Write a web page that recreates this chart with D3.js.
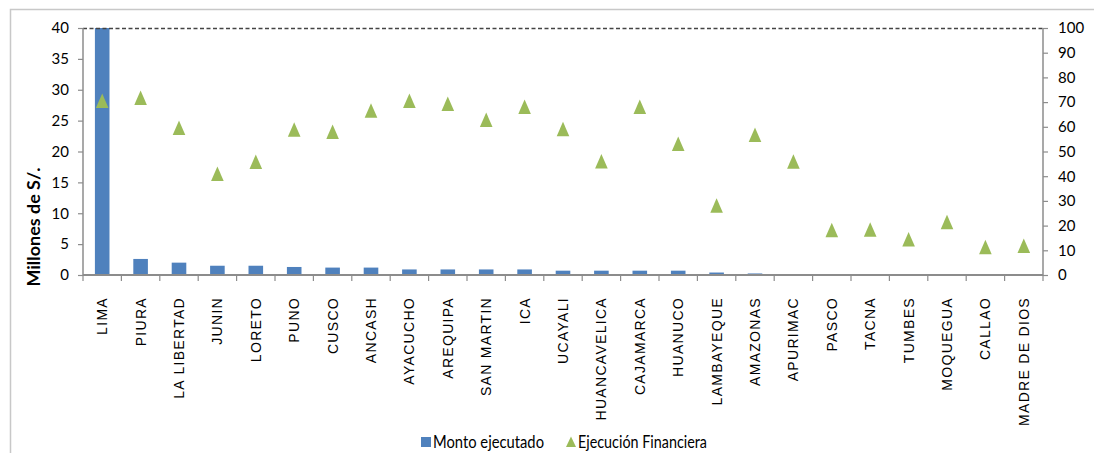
<!DOCTYPE html>
<html><head><meta charset="utf-8">
<script src="https://cdn.jsdelivr.net/npm/d3@7"></script>
<style>
html,body{margin:0;padding:0;background:#fff;}
svg{display:block;}
</style></head>
<body>
<svg id="chart" width="1094" height="453"></svg>
<script>
const categories = ["LIMA","PIURA","LA LIBERTAD","JUNIN","LORETO","PUNO","CUSCO","ANCASH","AYACUCHO","AREQUIPA","SAN MARTIN","ICA","UCAYALI","HUANCAVELICA","CAJAMARCA","HUANUCO","LAMBAYEQUE","AMAZONAS","APURIMAC","PASCO","TACNA","TUMBES","MOQUEGUA","CALLAO","MADRE DE DIOS"];
const montoEjecutado = [40,2.6,2.0,1.5,1.5,1.3,1.2,1.2,0.9,0.9,0.9,0.9,0.7,0.7,0.7,0.7,0.4,0.25,0.05,0,0,0,0,0,0];
const ejecucionFinanciera = [70.4,71.7,59.5,40.9,45.7,58.8,57.9,66.5,70.4,69.2,62.8,68,59,46,68,53,28,56.7,45.8,18.1,18.3,14.4,21.4,11.2,11.7];
const leftTicks = [0,5,10,15,20,25,30,35,40];
const rightTicks = [0,10,20,30,40,50,60,70,80,90,100];
const seriesNames = ["Monto ejecutado","Ejecución Financiera"];
const yTitle = "Millones de S/.";

const svg = d3.select("#chart");
const m = {left:83, right:1043, top:28, bottom:275};
const blue = "#4F81BD", green = "#9BBB59", axisCol = "#8c8c8c";
const tickFont = "Lato, 'Open Sans', sans-serif";

// outer border
svg.append("path").attr("d","M10.5,453 L10.5,9.5 L1094,9.5").attr("fill","none").attr("stroke","#c8c8c8").attr("stroke-width",1.5);

const x = d3.scaleBand().domain(categories).range([m.left,m.right]);
const yL = d3.scaleLinear().domain([0,40]).range([m.bottom,m.top]);
const yR = d3.scaleLinear().domain([0,100]).range([m.bottom,m.top]);

// bars
const bw = x.bandwidth()*0.38;
svg.append("g").selectAll("rect").data(categories).join("rect")
  .attr("x",(d)=>x(d)+x.bandwidth()/2-bw/2)
  .attr("y",(d,i)=>yL(montoEjecutado[i]))
  .attr("width",bw)
  .attr("height",(d,i)=>m.bottom-yL(montoEjecutado[i]))
  .attr("fill",blue);

// top dashed line
svg.append("line").attr("x1",m.left).attr("x2",m.right).attr("y1",m.top+0.5).attr("y2",m.top+0.5)
  .attr("stroke","#444").attr("stroke-width",1.3).attr("stroke-dasharray","4,2.5");

// left axis
const gl = svg.append("g").attr("transform",`translate(${m.left},0)`)
  .call(d3.axisLeft(yL).tickValues(leftTicks).tickSize(5).tickPadding(9).tickFormat(d3.format("d")));
// right axis
const gr = svg.append("g").attr("transform",`translate(${m.right},0)`)
  .call(d3.axisRight(yR).tickValues(rightTicks).tickSize(5).tickPadding(10).tickFormat(d3.format("d")));
[gl,gr].forEach(g=>{
  g.select(".domain").attr("stroke",axisCol).attr("stroke-width",1.5);
  g.selectAll(".tick line").attr("stroke",axisCol).attr("stroke-width",1.2);
  g.selectAll(".tick text").attr("fill","#000").style("font-family",tickFont).style("font-size","15px");
});
gl.select(".domain").attr("d",`M0,${m.bottom}V${m.top}`);
gr.select(".domain").attr("d",`M0,${m.bottom}V${m.top}`);

// bottom axis
const gb = svg.append("g").attr("transform",`translate(0,${m.bottom})`);
gb.append("line").attr("x1",m.left).attr("x2",m.right).attr("stroke",axisCol).attr("stroke-width",2);
const bounds = categories.map(c=>x(c)).concat([m.right]);
gb.selectAll("line.tk").data(bounds).join("line").attr("class","tk")
  .attr("x1",d=>d).attr("x2",d=>d).attr("y1",0).attr("y2",6).attr("stroke",axisCol).attr("stroke-width",1.2);
gb.selectAll("text").data(categories).join("text")
  .attr("transform",d=>`translate(${x(d)+x.bandwidth()/2},22) rotate(-90)`)
  .attr("text-anchor","end").attr("dy","0.36em")
  .style("font-family","'Liberation Sans', Arial, sans-serif").style("font-size","14px").style("letter-spacing","1.3px")
  .text(d=>d);

// triangles (centered on bounding box)
const triPath = "M0,-7.5L6.3,7L-6.3,7Z";
svg.append("g").selectAll("path").data(categories).join("path")
  .attr("d",triPath)
  .attr("transform",(d,i)=>`translate(${x(d)+x.bandwidth()/2},${yR(ejecucionFinanciera[i])})`)
  .attr("fill",green);

// y title
svg.append("text").attr("transform","translate(40,227) rotate(-90)")
  .attr("text-anchor","middle")
  .attr("textLength",119).attr("lengthAdjust","spacingAndGlyphs")
  .style("font-family",tickFont).style("font-weight","bold").style("font-size","16.5px")
  .text(yTitle);

// legend
const lg = svg.append("g").attr("transform","translate(0,442)");
lg.append("rect").attr("x",421).attr("y",-5).attr("width",10).attr("height",10).attr("fill",blue);
lg.append("text").attr("x",433).attr("y",0).attr("dy","0.36em")
  .attr("textLength",111).attr("lengthAdjust","spacingAndGlyphs")
  .style("font-family",tickFont).style("font-size","16.5px").text(seriesNames[0]);
lg.append("path").attr("d","M0,-5.5L5,5L-5,5Z").attr("transform","translate(571,0)").attr("fill",green);
lg.append("text").attr("x",578).attr("y",0).attr("dy","0.36em")
  .attr("textLength",129).attr("lengthAdjust","spacingAndGlyphs")
  .style("font-family",tickFont).style("font-size","16.5px").text(seriesNames[1]);
</script>
</body></html>
